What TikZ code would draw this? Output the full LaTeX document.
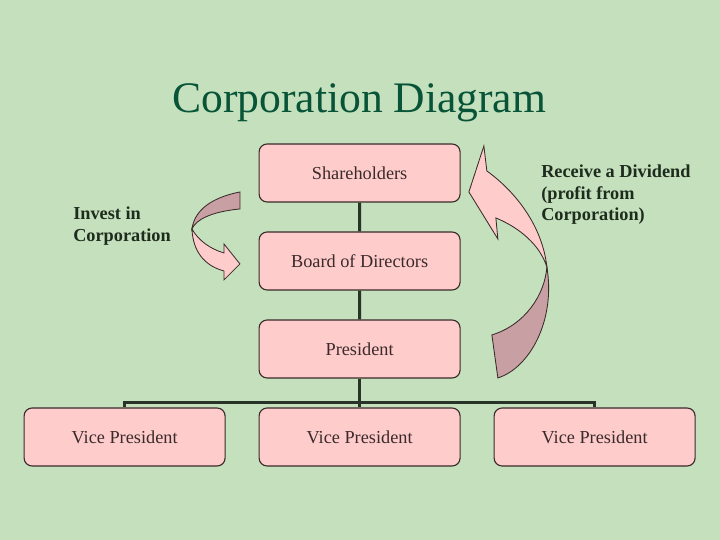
\documentclass[tikz,border=0pt]{standalone}
\usepackage{fontspec}
\setmainfont{Liberation Serif}
\usetikzlibrary{trees}

\definecolor{bgclr}{RGB}{196,224,188}
\definecolor{boxclr}{RGB}{255,204,204}
\definecolor{rimclr}{RGB}{58,42,42}
\definecolor{lineclr}{RGB}{40,52,40}
\definecolor{titleclr}{RGB}{8,84,56}
\definecolor{labelclr}{RGB}{30,44,30}
\definecolor{dimclr}{RGB}{200,160,164}

\begin{document}
\begin{tikzpicture}[level distance=22mm, parent anchor=south, child anchor=north]
				\fill[bgclr] (0,0) rectangle (18,13.5);
				\tikzstyle{post}=[draw=rimclr, fill=boxclr, rounded corners=2mm, 
				minimum width=50.25mm, minimum height=14.5mm, line width=0.8pt, 
				text=rimclr, font=\fontsize{13}{15}\selectfont] 
				\tikzstyle{lbl}=[inner sep=0pt, align=left, text=labelclr, 
				font=\fontsize{13}{15.5}\selectfont\bfseries] 
				\tikzstyle{edge from parent}=[draw=lineclr, line width=2pt] 
				\tikzstyle{level 3}=[sibling distance=58.75mm, 
				edge from parent path={(\tikzparentnode\tikzparentanchor) -- +(0,-6mm) -| (\tikzchildnode\tikzchildanchor)}] 
				% title
				\node[text=titleclr, font=\fontsize{31}{36}\selectfont, anchor=base] (title) at (8.98,10.675) {Corporation Diagram};
				% chart
				\node[post] (share) at (8.99,9.175) {Shareholders} 
				child {node[post] (board) {Board of Directors} 
					child {node[post] (pres) {President} 
						child {node[post] (vpa) {Vice President}} 
						child {node[post] (vpb) {Vice President}} 
						child {node[post] (vpc) {Vice President}} 
					} 
				}; 
				% side notes
				\node[lbl, anchor=north west] (invest) at (1.825,8.325) {Invest in\\Corporation};
				\node[lbl, anchor=north west] (divid) at (13.525,9.39) {Receive a Dividend\\(profit from\\Corporation)};
				% curved arrows
				\begin{scope}[x=0.025cm, y=-0.025cm, yshift=13.5cm, draw=rimclr, line width=0.6pt]
					\filldraw[fill=dimclr] (240,192) .. controls (215,197) and (195,208) .. (192,229) 
					.. controls (196,220) and (210,212) .. (240,209) -- cycle;
					\filldraw[fill=boxclr] (192,229) .. controls (198,240) and (210,249) .. (224,253) -- (224,244) -- (240,264) 
					-- (224,280) -- (224,271) .. controls (205,266) and (193,252) .. (192,229) -- cycle;
					\filldraw[fill=dimclr] (547,267) .. controls (545,295) and (525,325) .. (492,335) -- (498,378) 
					.. controls (530,368) and (556,320) .. (547,267) -- cycle;
					\filldraw[fill=boxclr] (487,171) -- (484,146) -- (469,192) -- (498,239) -- (496,218) 
					.. controls (520,228) and (540,245) .. (547,267) .. controls (543,230) and (520,195) .. (487,171) -- cycle;
				\end{scope}
\end{tikzpicture}
\end{document}
